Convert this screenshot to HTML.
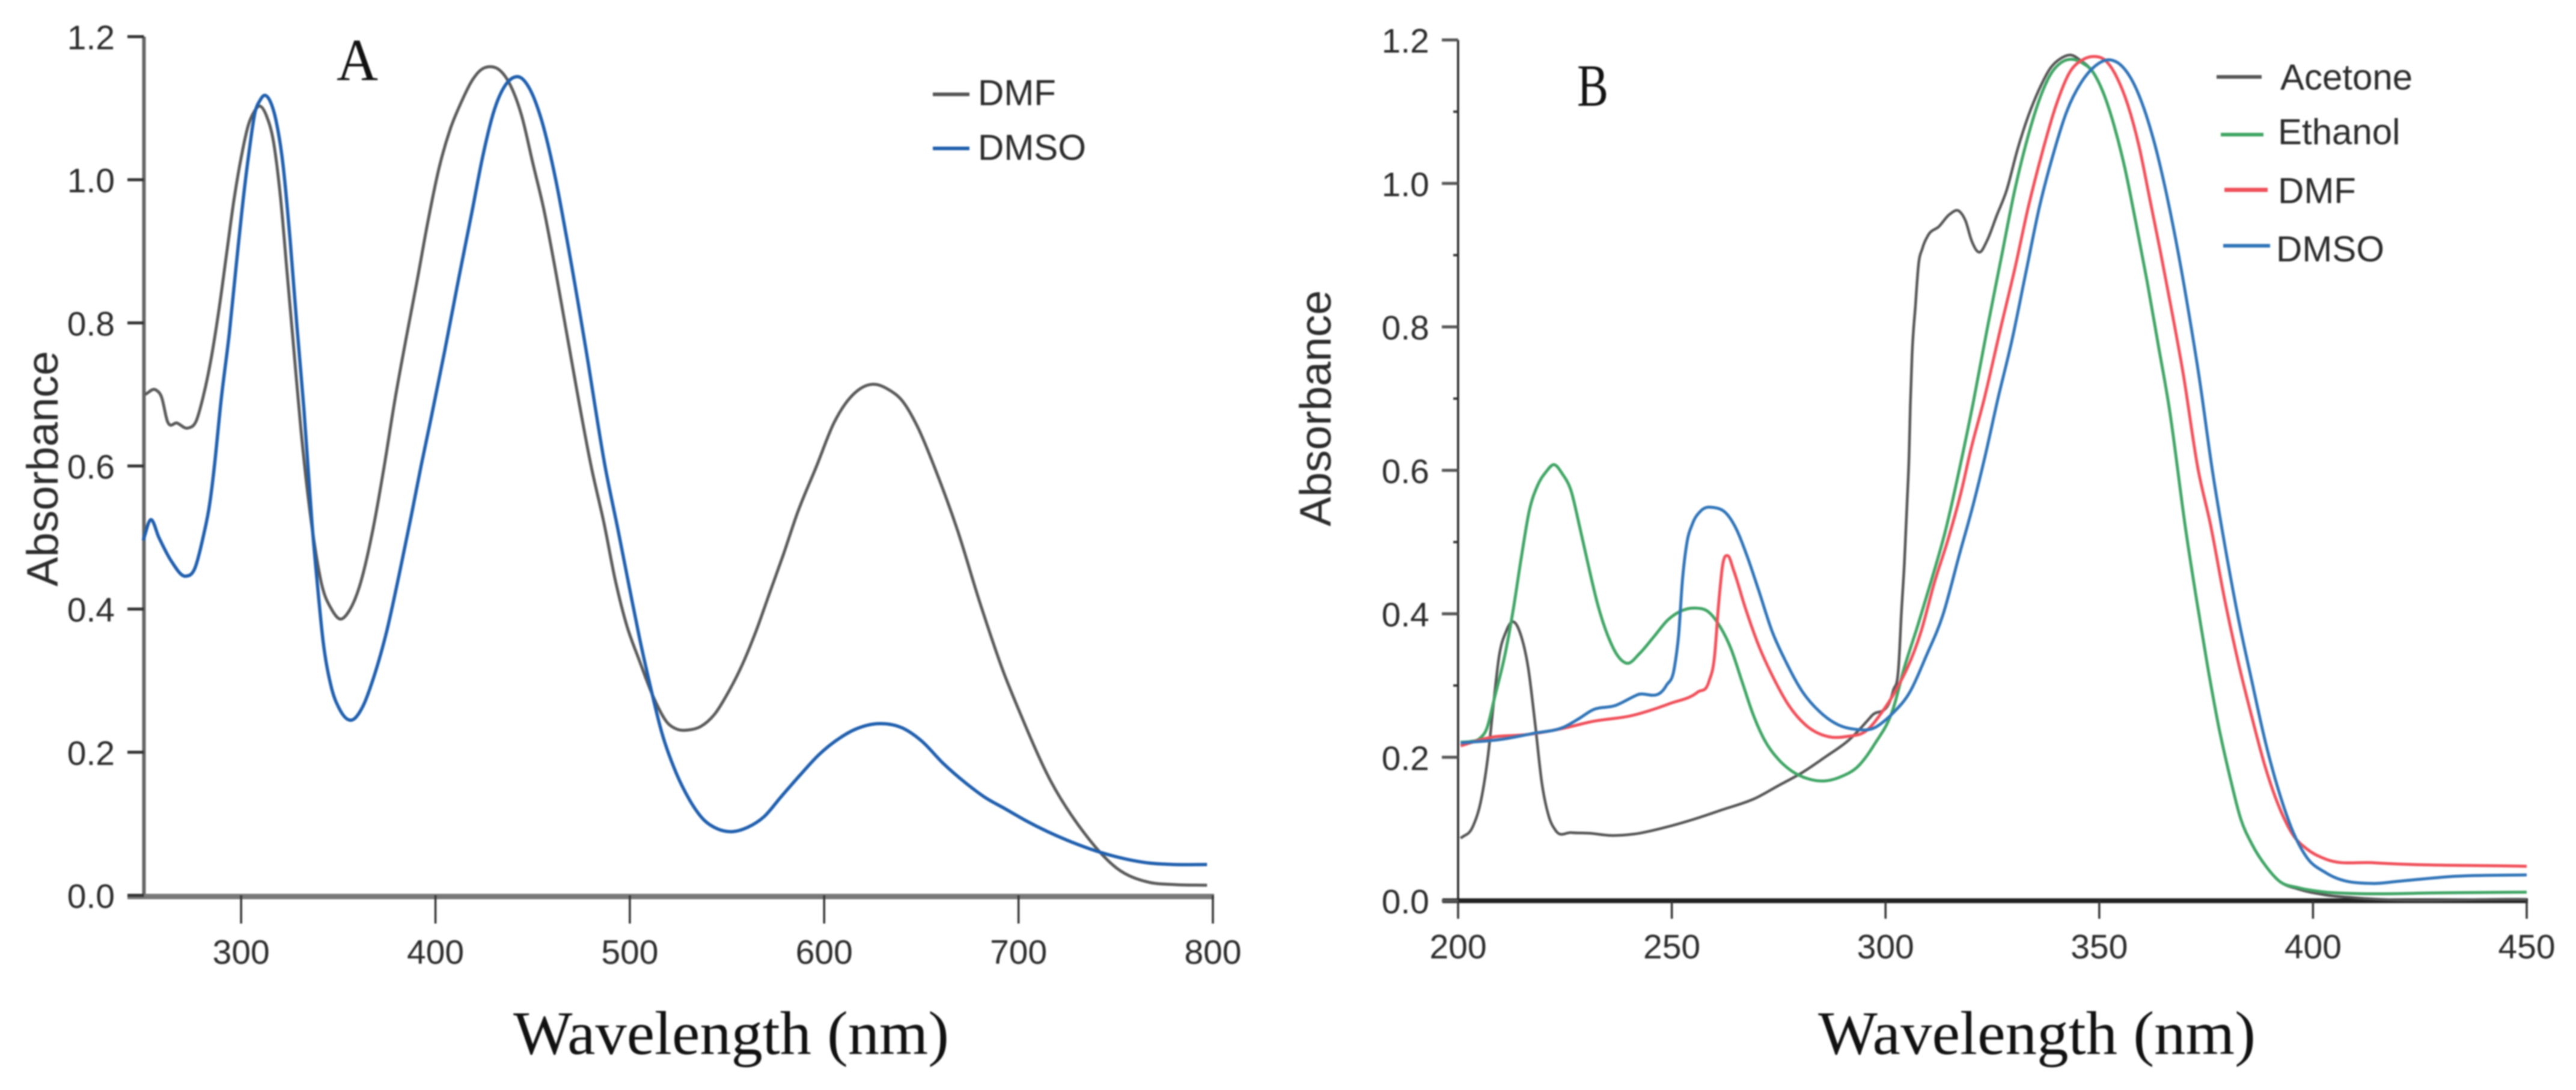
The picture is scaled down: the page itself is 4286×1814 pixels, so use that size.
<!DOCTYPE html>
<html>
<head>
<meta charset="utf-8">
<title>UV-Vis absorbance spectra</title>
<style>
html,body{margin:0;padding:0;background:#fff;}
svg{display:block;filter:blur(1.4px);}
.tick{font-family:"Liberation Sans",sans-serif;font-size:57px;fill:#2b2b2b;}
.leg{font-family:"Liberation Sans",sans-serif;font-size:60px;fill:#2b2b2b;}
.ytitle{font-family:"Liberation Sans",sans-serif;font-size:73px;fill:#2b2b2b;}
.xtitle{font-family:"Liberation Serif",serif;font-size:103px;fill:#111;}
.panel{font-family:"Liberation Serif",serif;font-size:100px;fill:#111;}
</style>
</head>
<body>
<svg id="chart" xmlns="http://www.w3.org/2000/svg" width="4286" height="1814" viewBox="0 0 4286 1814">
  <rect x="0" y="0" width="4286" height="1814" fill="#fff"/>
  <g id="panelA">
    <text class="panel" x="560" y="133" textLength="69" lengthAdjust="spacingAndGlyphs">A</text>
    <text class="ytitle" transform="translate(96,976) rotate(-90)" textLength="392" lengthAdjust="spacingAndGlyphs">Absorbance</text>
    <text class="xtitle" x="854" y="1754" textLength="725" lengthAdjust="spacingAndGlyphs">Wavelength (nm)</text>
    <line x1="1552" y1="157" x2="1613" y2="157" stroke="#555" stroke-width="6"/>
    <text class="leg" x="1627" y="175">DMF</text>
    <line x1="1552" y1="247" x2="1613" y2="247" stroke="#1f5fae" stroke-width="6"/>
    <text class="leg" x="1627" y="266">DMSO</text>
  </g>
  <g id="panelB">
    <text class="panel" x="2624" y="176" textLength="52" lengthAdjust="spacingAndGlyphs">B</text>
    <text class="ytitle" transform="translate(2214,876) rotate(-90)" textLength="393" lengthAdjust="spacingAndGlyphs">Absorbance</text>
    <text class="xtitle" x="3025" y="1754" textLength="728" lengthAdjust="spacingAndGlyphs">Wavelength (nm)</text>
    <line x1="3688" y1="128" x2="3763" y2="128" stroke="#555" stroke-width="6"/>
    <text class="leg" x="3794" y="149">Acetone</text>
    <line x1="3695" y1="224" x2="3766" y2="224" stroke="#3fa564" stroke-width="6"/>
    <text class="leg" x="3790" y="240">Ethanol</text>
    <line x1="3701" y1="316" x2="3773" y2="316" stroke="#f0505a" stroke-width="7"/>
    <text class="leg" x="3790" y="338">DMF</text>
    <line x1="3699" y1="409" x2="3777" y2="409" stroke="#2f74b8" stroke-width="6"/>
    <text class="leg" x="3787" y="435">DMSO</text>
  </g>
</svg>
<script>
// ---------- Panel A data ----------
const aTicksX = [300, 400, 500, 600, 700, 800];
const aTicksY = [0.0, 0.2, 0.4, 0.6, 0.8, 1.0, 1.2];
const aDmfWl = [250.6,256.3,259.1,262,267,272.6,276.9,280.4,284.3,288.2,292.5,296,300.3,303.9,306.7,309.5,313.1,316.6,320.2,323.7,327.3,330.8,337.9,341.5,346.5,351.1,355.7,360.7,367.8,373.4,379.1,384.8,390.5,396.2,401.8,407.5,413.2,418.9,423.1,428.1,433.1,438,444.4,450.1,455.8,461.5,467.1,480.4,486.8,492.4,498.1,505.2,512.3,519.4,524.4,530,536.5,543.6,550.7,557.8,564.9,572,579.1,586.2,596.1,605,618,626.6,633,640.5,648,657.1,668.5,679.9,692.4,700,716.5,733,750.5,767.5,780,797];
const aDmfAbs = [0.70,0.706,0.696,0.663,0.66,0.653,0.663,0.696,0.746,0.811,0.896,0.966,1.035,1.078,1.095,1.103,1.089,1.054,0.977,0.869,0.757,0.65,0.488,0.434,0.40,0.386,0.398,0.43,0.511,0.596,0.692,0.777,0.858,0.943,1.016,1.07,1.108,1.139,1.153,1.158,1.153,1.135,1.089,1.023,0.958,0.877,0.792,0.596,0.519,0.442,0.38,0.326,0.276,0.241,0.232,0.231,0.236,0.253,0.284,0.322,0.369,0.423,0.477,0.534,0.60,0.66,0.707,0.714,0.707,0.69,0.655,0.596,0.511,0.411,0.311,0.26,0.16,0.09,0.038,0.018,0.015,0.014];
const aDmsoWl = [249.6,253.5,257.7,264.1,271.5,276.2,280.4,284,286.1,289.7,293.9,297.5,300.3,303.9,307.4,309.5,312.1,314.9,318.1,321.6,325.2,328.7,332.3,336.5,339.4,342.2,346.5,350.7,357.1,362.8,368.5,374.9,382,387.6,392.6,397.6,404.7,411.8,418.9,424.5,430.2,435.9,440.2,443.7,448.7,454.4,461.5,467.1,477,487.5,493.9,499.5,505.2,510.9,516.6,523.7,530.8,537.9,545,552.8,560.6,569.1,577.6,587.6,597.5,606,616,628.7,640.1,650,661.4,672.8,682.7,692.4,704,725,746,767.6,780,797];
const aDmsoAbs = [0.496,0.525,0.50,0.467,0.446,0.457,0.50,0.55,0.596,0.692,0.785,0.881,0.954,1.035,1.097,1.11,1.118,1.11,1.081,1.02,0.916,0.796,0.68,0.519,0.43,0.355,0.29,0.26,0.245,0.265,0.307,0.369,0.457,0.531,0.60,0.665,0.76,0.86,0.957,1.035,1.097,1.132,1.143,1.143,1.126,1.085,1.005,0.925,0.77,0.596,0.511,0.434,0.357,0.288,0.226,0.172,0.133,0.106,0.093,0.089,0.095,0.11,0.137,0.168,0.197,0.216,0.232,0.24,0.234,0.216,0.184,0.157,0.137,0.122,0.104,0.077,0.057,0.045,0.043,0.043];

// ---------- Panel B data ----------
const bTicksX = [200, 250, 300, 350, 400, 450];
const bTicksY = [0.0, 0.2, 0.4, 0.6, 0.8, 1.0, 1.2];
const bMinorY = [0.3, 0.5, 0.7, 0.9, 1.1];
const bAcetoneWl = [200.6,203.5,205.4,207,208.3,209.6,211.2,212.8,214.8,216.4,218,219.6,221.2,222.8,226.4,230.9,235.7,241.2,248.3,255.4,261.9,269.6,274.8,280.6,285.8,291.6,296.8,301.8,303.1,303.7,304.4,305,305.5,305.8,306.2,307,307.7,308.6,309.9,312.5,315,317.3,318.7,320.2,322,323.8,326,328.3,330.9,333.4,336,338.6,341.2,343.4,345.7,348.3,350.9,353.4,356,358.6,361.2,363.8,366.4,370.2,372.8,375.4,378,380.6,383.1,385.7,389,392.2,396.7,403,410,450];
const bAcetoneAbs = [0.087,0.104,0.141,0.202,0.275,0.341,0.375,0.389,0.368,0.325,0.248,0.164,0.118,0.098,0.095,0.094,0.091,0.093,0.102,0.114,0.127,0.143,0.16,0.179,0.20,0.225,0.258,0.293,0.33,0.40,0.47,0.55,0.62,0.69,0.76,0.83,0.886,0.909,0.927,0.94,0.957,0.961,0.948,0.919,0.904,0.921,0.955,0.99,1.048,1.094,1.132,1.161,1.175,1.179,1.171,1.157,1.127,1.082,1.021,0.944,0.863,0.775,0.686,0.518,0.418,0.325,0.241,0.172,0.114,0.079,0.048,0.027,0.016,0.008,0.004,0.002];
const bEthanolWl = [200.6,203,205,206.7,208.6,210.9,212.8,214.8,216.7,218.6,220.6,222.4,224.4,226.4,228.3,230.3,232.8,235.4,237.4,239.6,242.5,245.8,249,252.2,255.4,258.7,261.2,263.8,266.4,269,271.6,274.8,278,281.9,285.8,289.6,293.5,297.4,301.8,304.4,307.6,310.8,314.1,317.3,320.5,323.8,327,330.2,333.4,336,338.6,341.2,343.8,346.3,348.3,350.9,353.4,356,358.6,361.2,363.8,366.4,370.2,372.8,375.4,378,380.6,383.1,385.7,389,392.2,396.7,403,410,430,450];
const bEthanolAbs = [0.221,0.222,0.226,0.24,0.285,0.341,0.402,0.479,0.545,0.579,0.598,0.608,0.595,0.572,0.525,0.472,0.41,0.364,0.341,0.331,0.345,0.368,0.391,0.404,0.408,0.402,0.383,0.352,0.306,0.26,0.225,0.198,0.181,0.17,0.167,0.173,0.187,0.218,0.268,0.325,0.385,0.448,0.518,0.602,0.694,0.798,0.894,0.99,1.067,1.117,1.152,1.169,1.173,1.167,1.157,1.127,1.082,1.021,0.944,0.863,0.775,0.686,0.518,0.418,0.325,0.241,0.172,0.114,0.079,0.048,0.027,0.018,0.012,0.01,0.011,0.012];
const bDmfWl = [200.6,207,216.7,225.1,231.5,240.6,249.6,256.1,258.7,260,260.9,261.9,263.1,264.5,267.1,270.3,273.5,277.4,281.3,286.4,291,295.5,299.3,301.8,308.3,311.5,314.7,317.9,319.8,323.1,327,330.2,333.4,336.7,339.9,343.1,346.3,348.8,351.5,354.1,356.7,359.3,361.8,364.4,367,369.6,373.1,376,379.3,382.5,385.7,389,392.2,395.4,398.6,403,414,450];
const bDmfAbs = [0.216,0.227,0.232,0.241,0.25,0.258,0.275,0.291,0.306,0.341,0.41,0.468,0.481,0.46,0.41,0.356,0.314,0.272,0.245,0.229,0.229,0.237,0.264,0.287,0.375,0.445,0.505,0.575,0.625,0.70,0.80,0.88,0.967,1.044,1.109,1.155,1.173,1.177,1.171,1.148,1.109,1.052,0.979,0.902,0.821,0.736,0.602,0.525,0.421,0.333,0.256,0.183,0.129,0.091,0.072,0.058,0.053,0.048];
const bDmsoWl = [200.6,210.2,217.3,225.1,228.3,231.5,236.7,241.9,248.7,250.6,251.6,252.5,253.5,254.8,256.7,260,262.9,265.1,267.7,270.3,273.5,276.7,280.6,284.5,289,292.9,297.4,300,301.8,305.7,309.5,313.4,317.3,320.5,323.1,326.3,329.6,332.8,336,339.2,342.5,345.7,348.9,352.8,355.4,358,360.6,363.1,365.7,368.3,370.9,373.5,376.4,379.3,382.5,385.7,389,392.2,395.4,398.6,403,414,419.8,433,450];
const bDmsoAbs = [0.22,0.225,0.233,0.243,0.254,0.266,0.272,0.287,0.30,0.325,0.371,0.448,0.498,0.525,0.543,0.548,0.539,0.518,0.479,0.433,0.375,0.333,0.291,0.264,0.245,0.239,0.241,0.252,0.262,0.291,0.341,0.398,0.483,0.552,0.615,0.70,0.782,0.875,0.967,1.04,1.102,1.14,1.163,1.172,1.163,1.14,1.102,1.052,0.986,0.909,0.821,0.725,0.602,0.498,0.395,0.306,0.218,0.149,0.095,0.06,0.039,0.024,0.027,0.034,0.036];

const NS = 'http://www.w3.org/2000/svg';

function make(tag, attrs, parent, text) {
  const el = document.createElementNS(NS, tag);
  for (const k in attrs) el.setAttribute(k, attrs[k]);
  if (text !== undefined) el.textContent = text;
  parent.appendChild(el);
  return el;
}

// Axis functions
const xA = v => 239.5 + (v - 250) * (2018 - 239.5) / 550;
const yA = v => 1490 - v * (1490 - 61) / 1.2;
const xB = v => 2426 + (v - 200) * (4204 - 2426) / 250;
const yB = v => 1499 - v * (1499 - 66.5) / 1.2;

// Smooth cubic Hermite path with three-point tangents
function curve(xs, ys, sx, sy) {
  const px = xs.map(sx), py = ys.map(sy), n = px.length;
  const d = [], m = new Array(n);
  for (let i = 0; i < n - 1; i++) d.push((py[i + 1] - py[i]) / (px[i + 1] - px[i]));
  m[0] = d[0]; m[n - 1] = d[n - 2];
  for (let i = 1; i < n - 1; i++) {
    const h0 = px[i] - px[i - 1], h1 = px[i + 1] - px[i];
    m[i] = (d[i - 1] * h1 + d[i] * h0) / (h0 + h1);
  }
  let p = 'M' + px[0].toFixed(1) + ' ' + py[0].toFixed(1);
  for (let i = 0; i < n - 1; i++) {
    const h = (px[i + 1] - px[i]) / 3;
    p += 'C' + (px[i] + h).toFixed(1) + ' ' + (py[i] + m[i] * h).toFixed(1) + ' ' +
         (px[i + 1] - h).toFixed(1) + ' ' + (py[i + 1] - m[i + 1] * h).toFixed(1) + ' ' +
         px[i + 1].toFixed(1) + ' ' + py[i + 1].toFixed(1);
  }
  return p;
}

// ---------- Panel A axes ----------
const gA = document.getElementById('panelA');
const aYAxis = make('line', {x1: xA(250), y1: yA(1.2), x2: xA(250), y2: yA(0), stroke: '#666', 'stroke-width': 6}, gA);


const aXAxis = make('line', {x1: 212, y1: yA(0) + 2, x2: xA(800) + 2, y2: yA(0) + 2, stroke: '#777', 'stroke-width': 9}, gA);


aTicksX.forEach(v => {
  const t = make('line', {x1: xA(v), y1: yA(0), x2: xA(v), y2: yA(0) + 47, stroke: '#333', 'stroke-width': 3.5}, gA);
  
  
  const l = make('text', {class: 'tick', x: xA(v), y: 1604, 'text-anchor': 'middle'}, gA, String(v));
  
  
});
aTicksY.forEach(v => {
  const t = make('line', {x1: 212, y1: yA(v), x2: xA(250), y2: yA(v), stroke: '#333', 'stroke-width': 5}, gA);
  
  
  const l = make('text', {class: 'tick', x: 191, y: yA(v) + 21, 'text-anchor': 'end'}, gA, v.toFixed(1));
  
  
});

// ---------- Panel A series ----------
const aLine1 = make('path', {d: curve(aDmfWl, aDmfAbs, xA, yA), fill: 'none', stroke: '#5a5a5a', 'stroke-width': 5, 'stroke-linejoin': 'round'}, gA);


const aLine2 = make('path', {d: curve(aDmsoWl, aDmsoAbs, xA, yA), fill: 'none', stroke: '#1f5fae', 'stroke-width': 5.5, 'stroke-linejoin': 'round'}, gA);



// ---------- Panel B axes ----------
const gB = document.getElementById('panelB');
const bYAxis = make('line', {x1: xB(200), y1: yB(1.2), x2: xB(200), y2: yB(0), stroke: '#222', 'stroke-width': 3.5}, gB);


const bXAxis = make('line', {x1: 2400, y1: yB(0), x2: xB(450) + 2, y2: yB(0), stroke: '#222', 'stroke-width': 8}, gB);


bTicksX.forEach(v => {
  const t = make('line', {x1: xB(v), y1: yB(0), x2: xB(v), y2: yB(0) + 30, stroke: '#333', 'stroke-width': 3.5}, gB);
  
  
  const l = make('text', {class: 'tick', x: xB(v), y: 1595, 'text-anchor': 'middle'}, gB, String(v));
  
  
});
bTicksY.forEach(v => {
  const t = make('line', {x1: 2399, y1: yB(v), x2: xB(200), y2: yB(v), stroke: '#555', 'stroke-width': 5}, gB);
  
  
  const l = make('text', {class: 'tick', x: 2378, y: yB(v) + 21, 'text-anchor': 'end'}, gB, v.toFixed(1));
  
  
});
bMinorY.forEach(v => {
  const t = make('line', {x1: 2418, y1: yB(v), x2: xB(200), y2: yB(v), stroke: '#333', 'stroke-width': 4}, gB);
  
  
});

// ---------- Panel B series ----------
const bLine1 = make('path', {d: curve(bAcetoneWl, bAcetoneAbs, xB, yB), fill: 'none', stroke: '#555', 'stroke-width': 4.5, 'stroke-linejoin': 'round'}, gB);


const bLine2 = make('path', {d: curve(bEthanolWl, bEthanolAbs, xB, yB), fill: 'none', stroke: '#3fa564', 'stroke-width': 5, 'stroke-linejoin': 'round'}, gB);


const bLine3 = make('path', {d: curve(bDmfWl, bDmfAbs, xB, yB), fill: 'none', stroke: '#f0505a', 'stroke-width': 5, 'stroke-linejoin': 'round'}, gB);


const bLine4 = make('path', {d: curve(bDmsoWl, bDmsoAbs, xB, yB), fill: 'none', stroke: '#2f74b8', 'stroke-width': 5, 'stroke-linejoin': 'round'}, gB);


</script>
</body>
</html>
